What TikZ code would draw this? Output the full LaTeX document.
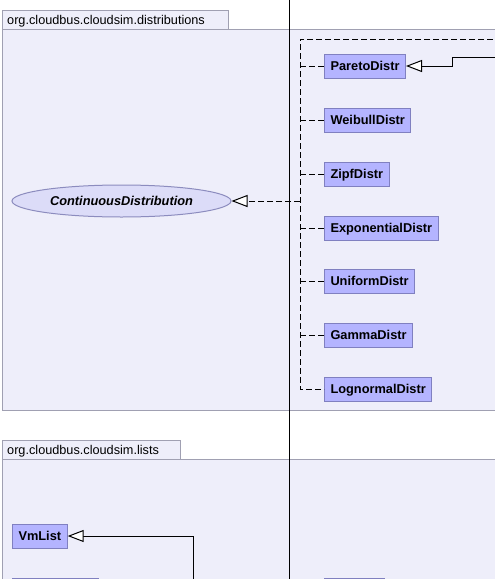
\documentclass[tikz,border=0pt]{standalone}
\usepackage{fontspec}
\setmainfont{Liberation Sans}
\usetikzlibrary{arrows.meta,shapes.geometric}
\definecolor{pkgfill}{RGB}{238,238,250}
\definecolor{pkgline}{RGB}{160,160,178}
\definecolor{clsfill}{RGB}{180,180,255}
\definecolor{clsline}{RGB}{128,128,192}
\definecolor{ellfill}{RGB}{220,220,248}
\definecolor{ellline}{RGB}{140,140,190}
\tikzset{
  pkg/.style={fill=pkgfill,draw=pkgline,line width=1pt},
  pkglabel/.style={anchor=base west,inner sep=0pt,font=\fontsize{12.7}{15}\selectfont},
  cls/.style={draw=clsline,fill=clsfill,line width=1pt,anchor=west,minimum height=24pt,
    inner xsep=6pt,inner ysep=0pt,text height=9pt,text depth=0pt,
    font=\fontsize{12.8}{15}\selectfont\bfseries},
  iface/.style={ellipse,draw=ellline,fill=ellfill,line width=1pt,minimum width=219pt,
    minimum height=32pt,inner sep=0pt,font=\fontsize{12.8}{15}\selectfont\bfseries\itshape},
  realize/.style={line width=1pt,dash pattern=on 6pt off 3pt,
    -{Triangle[length=16pt,width=12pt,fill=white]}},
  realizeplain/.style={line width=1pt,dash pattern=on 6pt off 3pt},
  inherit/.style={line width=1pt,-{Triangle[length=16pt,width=12pt,fill=white]}},
  plain/.style={line width=1pt}
}
\begin{document}
\begin{tikzpicture}[x=1pt,y=-1pt]
\useasboundingbox (0,0) rectangle (495,579);
\clip (0,0) rectangle (495,579);
% packages
\draw[pkg] (2,10) rectangle (228,29);
\draw[pkg] (2,29) rectangle (520,410);
\node[pkglabel] (pkgA) at (7,24.5) {org.cloudbus.cloudsim.distributions};
\draw[pkg] (2,440) rectangle (180,459);
\draw[pkg] (2,459) rectangle (520,620);
\node[pkglabel] (pkgB) at (7,454.5) {org.cloudbus.cloudsim.lists};
% long vertical connector
\coordinate (vtop) at (289,-10);
\coordinate (vbot) at (289,600);
\draw[plain] (vtop) -- (vbot);
% interface
\node[iface] (cd) at (121.5,201) {ContinuousDistribution};
% classes
\node[cls] (pareto) at (324,66) {ParetoDistr};
\node[cls] (weibull) at (324,120) {WeibullDistr};
\node[cls] (zipf) at (324,174) {ZipfDistr};
\node[cls] (expo) at (324,228) {ExponentialDistr};
\node[cls] (unif) at (324,281) {UniformDistr};
\node[cls] (gamma) at (324,335) {GammaDistr};
\node[cls] (logn) at (324,389) {LognormalDistr};
\node[cls] (vmlist) at (12,536) {VmList};
% cut-off boxes at the bottom
\draw[draw=clsline,fill=clsfill,line width=1pt] (12,578) rectangle (98,600);
\draw[draw=clsline,fill=clsfill,line width=1pt] (324,578) rectangle (384,600);
% realization trunk
\coordinate (ttop) at (300,39);
\coordinate (tbot) at (300,389);
\coordinate (tmid) at (300,201);
\coordinate (tright) at (520,39);
\draw[realizeplain] (tright) -- (ttop) -- (tbot) -- (logn.west);
\foreach \n in {pareto,weibull,zipf,expo,unif,gamma}
  \draw[realizeplain] (300,0 |- \n.west) -- (\n.west);
\draw[realize] (tmid) -- (cd.east);
% inheritance to ParetoDistr
\coordinate (pr1) at (520,57);
\coordinate (pr2) at (452,57);
\draw[inherit] (pr1) -- (pr2) -- (452,0 |- pareto.east) -- (pareto.east);
% inheritance to VmList
\coordinate (vm1) at (193,600);
\draw[inherit] (vm1) -- (193,0 |- vmlist.east) -- (vmlist.east);
\end{tikzpicture}
\end{document}
